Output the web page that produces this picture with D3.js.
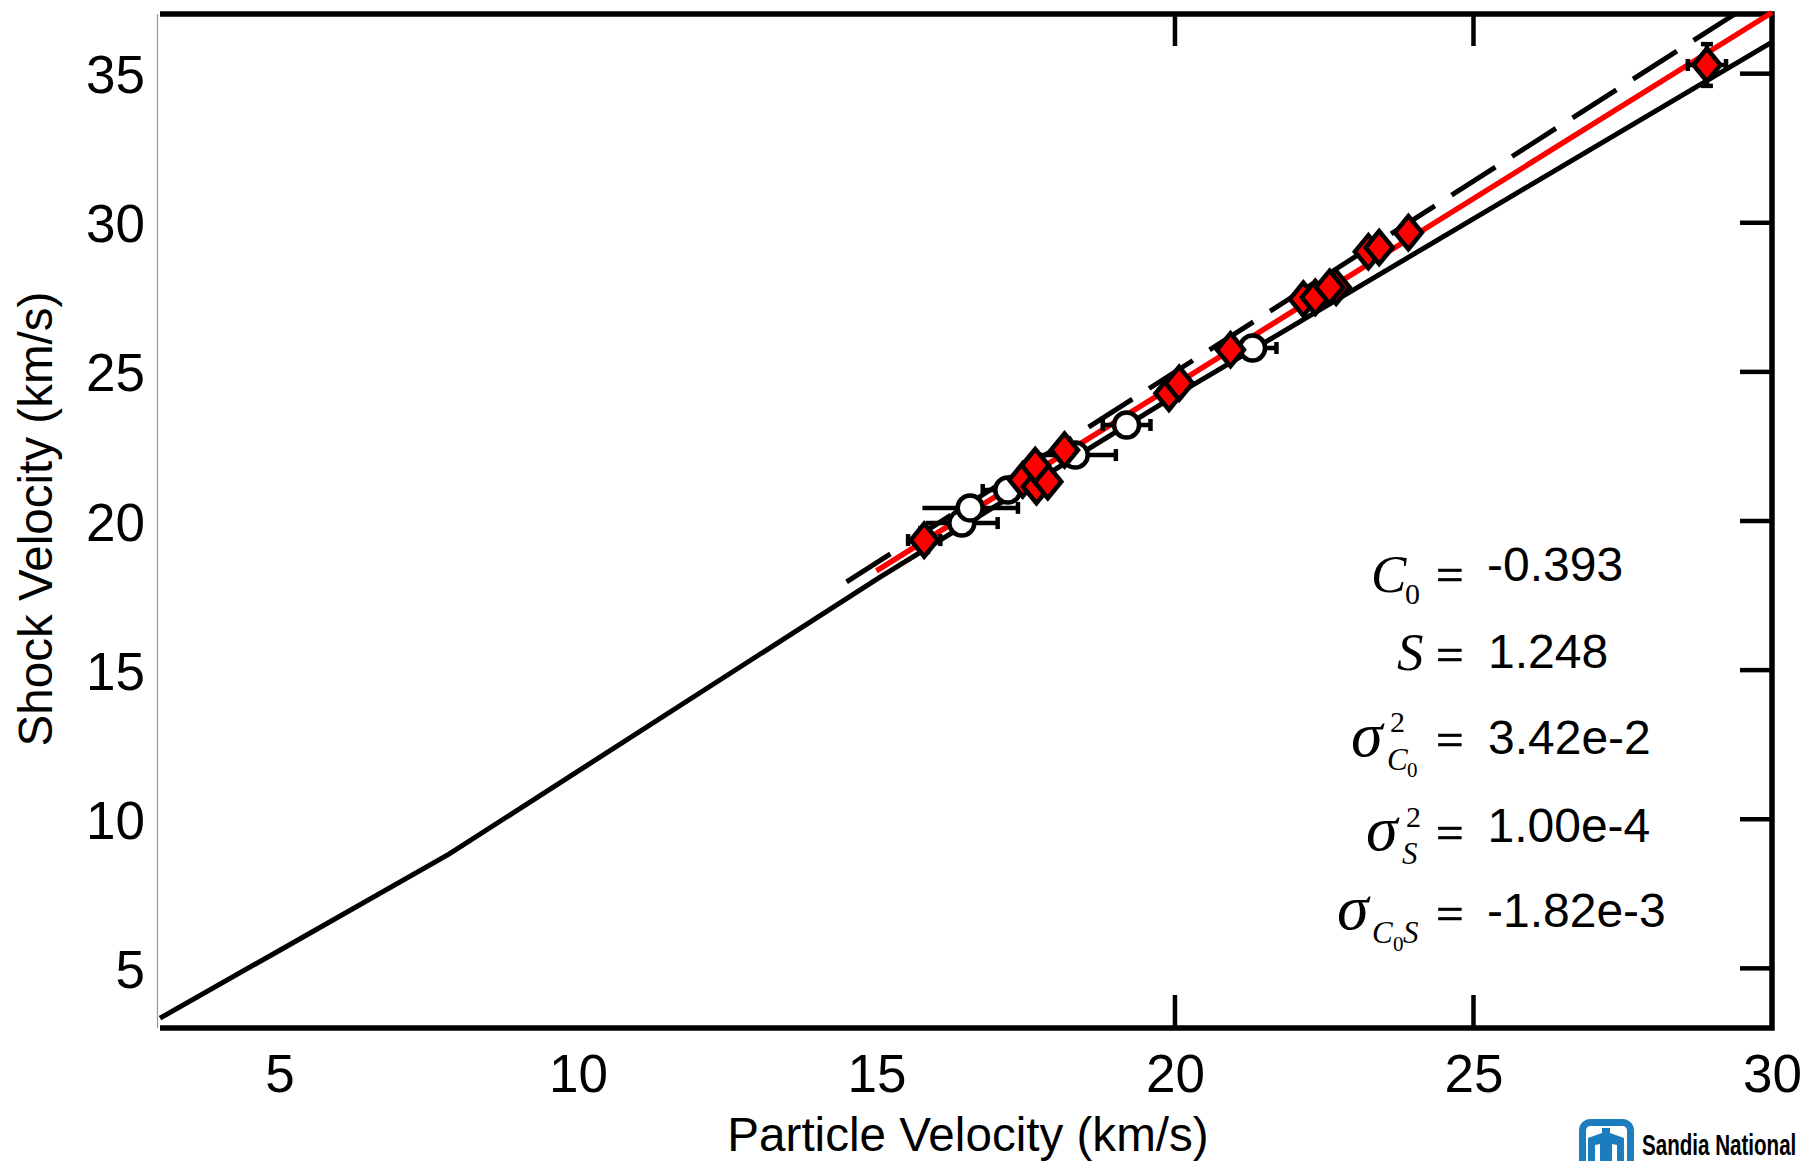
<!DOCTYPE html>
<html>
<head>
<meta charset="utf-8">
<script src="https://cdn.jsdelivr.net/npm/d3@7"></script>
<style>
html, body { margin: 0; padding: 0; background: #fff; overflow: hidden; }
svg { display: block; }
text { font-family: "Liberation Sans", Arial, sans-serif; fill: #000; }
.serif { font-family: "Liberation Serif", "Times New Roman", serif; }
</style>
</head>
<body>
<svg id="chart" width="1804" height="1161"></svg>
<script>
// values
var xTicks = [5, 10, 15, 20, 25, 30];
var yTicks = [5, 10, 15, 20, 25, 30, 35];
var xTickMarks = [20, 25];

var curveX = [3, 5, 7.84, 15.06, 20, 25.45, 30];
var curveY = [3.33, 5.6, 8.83, 18.12, 24.2, 30.67, 36.06];
var fitX = [15, 30];
var fitY = [18.33, 37.05];
var dashX = [14.5, 29.38];
var dashY = [17.96, 37];

var diamondX = [15.8, 17.45, 17.68, 17.87, 17.66, 18.15, 19.9, 20.07, 20.93, 22.15, 22.35, 22.7, 22.59, 23.24, 23.42, 23.91, 28.91];
var diamondY = [19.36, 21.38, 21.15, 21.32, 21.86, 22.38, 24.28, 24.62, 25.74, 27.44, 27.5, 27.84, 27.84, 29.03, 29.17, 29.67, 35.29];
var diamondXErr = [0.27, 0.15, 0.15, 0.15, 0.15, 0.15, 0.15, 0.15, 0.15, 0.15, 0.15, 0.15, 0.15, 0.15, 0.15, 0.15, 0.32];
var diamondYErr = [0.4, 0.3, 0.3, 0.3, 0.3, 0.3, 0.3, 0.3, 0.3, 0.3, 0.3, 0.3, 0.3, 0.3, 0.3, 0.3, 0.7];

var circleX = [16.43, 16.57, 17.2, 18.33, 19.19, 21.3];
var circleY = [19.93, 20.44, 21.04, 22.21, 23.22, 25.8];
var circleXErr = [0.6, 0.8, 0.42, 0.68, 0.4, 0.4];
var circleLeftCap = [false, false, true, true, true, true];

var margin = { left: 160, top: 14, right: 32, bottom: 133 };
var width = 1804, height = 1161;

var x = d3.scaleLinear().domain([3, 30]).range([margin.left, width - margin.right]);
var y = d3.scaleLinear().domain([3, 37]).range([height - margin.bottom, margin.top]);

var svg = d3.select("#chart");

// frame: thin grey on the left, heavy black on the others
svg.append("line").attr("x1", 157.5).attr("x2", 157.5).attr("y1", y(37)).attr("y2", y(3))
    .attr("stroke", "#999").attr("stroke-width", 1.2);
svg.append("path")
    .attr("d", d3.line()([[x(3), y(37)], [x(30), y(37)], [x(30), y(3)], [x(3), y(3)]]))
    .attr("fill", "none").attr("stroke", "#000").attr("stroke-width", 5.5);

// bottom axis
var xAxis = svg.append("g").attr("transform", "translate(0," + y(3) + ")")
    .call(d3.axisBottom(x).tickValues(xTicks).tickSize(0).tickFormat(d3.format("d")));
xAxis.select(".domain").remove();
xAxis.selectAll("text").attr("y", 64).attr("dy", 0).attr("font-size", 53)
    .style("font-family", '"Liberation Sans"');

// left axis labels only
var yAxis = svg.append("g").attr("transform", "translate(" + x(3) + ",0)")
    .call(d3.axisLeft(y).tickValues(yTicks).tickSize(0).tickFormat(d3.format("d")));
yAxis.select(".domain").remove();
yAxis.selectAll("text").attr("x", -15).attr("dy", 19).attr("font-size", 53)
    .style("font-family", '"Liberation Sans"');

// tick marks
svg.selectAll(".tickB").data(xTickMarks).enter().append("line")
    .attr("x1", d => x(d)).attr("x2", d => x(d)).attr("y1", y(3)).attr("y2", y(3) - 33)
    .attr("stroke", "#000").attr("stroke-width", 4.5);
svg.selectAll(".tickT").data(xTickMarks).enter().append("line")
    .attr("x1", d => x(d)).attr("x2", d => x(d)).attr("y1", y(37)).attr("y2", y(37) + 32)
    .attr("stroke", "#000").attr("stroke-width", 4.5);
svg.selectAll(".tickR").data(yTicks).enter().append("line")
    .attr("x1", x(30)).attr("x2", x(30) - 32).attr("y1", d => y(d)).attr("y2", d => y(d))
    .attr("stroke", "#000").attr("stroke-width", 4.5);

// axis titles
svg.append("text").attr("x", 968).attr("y", 1151).attr("text-anchor", "middle")
    .attr("font-size", 47.6).text("Particle Velocity (km/s)");
svg.append("text").attr("transform", "translate(52,519) rotate(-90)").attr("text-anchor", "middle")
    .attr("font-size", 47.6).text("Shock Velocity (km/s)");

// lines
var line = d3.line().x(d => x(d[0])).y(d => y(d[1]));
svg.append("path").attr("d", line(d3.zip(curveX, curveY)))
    .attr("fill", "none").attr("stroke", "#000").attr("stroke-width", 5);
svg.append("path").attr("d", line(d3.zip(dashX, dashY)))
    .attr("fill", "none").attr("stroke", "#000").attr("stroke-width", 5)
    .attr("stroke-dasharray", "52 19.8");
svg.append("path").attr("d", line(d3.zip(fitX, fitY)))
    .attr("fill", "none").attr("stroke", "#f00").attr("stroke-width", 5.5);

// error bars for the open circles
circleX.forEach(function (cx, i) {
    var py = y(circleY[i]);
    var g = svg.append("g").attr("stroke", "#000").attr("stroke-width", 4.5);
    g.append("line").attr("x1", x(cx - circleXErr[i])).attr("x2", x(cx + circleXErr[i])).attr("y1", py).attr("y2", py);
    g.append("line").attr("x1", x(cx + circleXErr[i])).attr("x2", x(cx + circleXErr[i])).attr("y1", py - 6).attr("y2", py + 6);
    if (circleLeftCap[i]) {
        g.append("line").attr("x1", x(cx - circleXErr[i])).attr("x2", x(cx - circleXErr[i])).attr("y1", py - 6).attr("y2", py + 6);
    }
});
svg.selectAll(".open").data(d3.zip(circleX, circleY)).enter().append("circle")
    .attr("cx", d => x(d[0])).attr("cy", d => y(d[1])).attr("r", 12.5)
    .attr("fill", "#fff").attr("stroke", "#000").attr("stroke-width", 4.5);

// diamonds with their error bars
diamondX.forEach(function (dx, i) {
    var px = x(dx), py = y(diamondY[i]);
    var g = svg.append("g").attr("stroke", "#000").attr("stroke-width", 4.5);
    var xl = x(dx - diamondXErr[i]), xr = x(dx + diamondXErr[i]);
    var yt = y(diamondY[i] + diamondYErr[i]), yb = y(diamondY[i] - diamondYErr[i]);
    g.append("line").attr("x1", xl).attr("x2", xr).attr("y1", py).attr("y2", py);
    g.append("line").attr("x1", px).attr("x2", px).attr("y1", yt).attr("y2", yb);
    g.append("line").attr("x1", xl).attr("x2", xl).attr("y1", py - 6).attr("y2", py + 6);
    g.append("line").attr("x1", xr).attr("x2", xr).attr("y1", py - 6).attr("y2", py + 6);
    g.append("line").attr("x1", px - 6).attr("x2", px + 6).attr("y1", yt).attr("y2", yt);
    g.append("line").attr("x1", px - 6).attr("x2", px + 6).attr("y1", yb).attr("y2", yb);
    svg.append("polygon")
        .attr("points", [[px - 13.5, py], [px, py - 16.5], [px + 13.5, py], [px, py + 16.5]].join(" "))
        .attr("fill", "#f00").attr("stroke", "#000").attr("stroke-width", 4.5);
});

// fit results
var eqItems = [
    ["C", 1371, 592, 53, "i"], ["0", 1405, 604, 30, "s"],
    ["S", 1397, 670, 53, "i"],
    ["\u03c3", 1351, 756, 64, "i"], ["2", 1390, 732, 30, "s"], ["C", 1387, 770, 31, "i"], ["0", 1407, 777, 21, "s"],
    ["\u03c3", 1366, 850, 64, "i"], ["2", 1406, 827, 30, "s"], ["S", 1402, 864, 31, "i"],
    ["\u03c3", 1337, 929, 64, "i"], ["C", 1372, 943, 31, "i"], ["0", 1393, 951, 21, "s"], ["S", 1403, 943, 31, "i"]
];
eqItems.forEach(function (e) {
    svg.append("text").attr("class", "serif").attr("x", e[1]).attr("y", e[2])
        .attr("font-size", e[3]).attr("font-style", e[4] == "i" ? "italic" : "normal").text(e[0]);
});
var eqRows = [591, 671, 756, 849, 930];
eqRows.forEach(function (b) {
    svg.append("text").attr("class", "serif").attr("x", 1436).attr("y", b)
        .attr("font-size", 49).attr("stroke", "#000").attr("stroke-width", 0.6).text("=");
});
var eqValues = ["-0.393", "1.248", "3.42e-2", "1.00e-4", "-1.82e-3"];
var eqValueX = [1487, 1488, 1488, 1487.5, 1487];
var eqValueY = [581, 668, 754, 842, 927];
eqValues.forEach(function (v, i) {
    svg.append("text").attr("x", eqValueX[i]).attr("y", eqValueY[i]).attr("font-size", 48).text(v);
});

// logo, cut off by the bottom edge of the picture
var blue = "#1b7dbd";
svg.append("rect").attr("x", 1582.5).attr("y", 1122.5).attr("width", 48).attr("height", 60).attr("rx", 8)
    .attr("fill", "#fff").attr("stroke", blue).attr("stroke-width", 7);
svg.append("path").attr("fill", blue)
    .attr("d", "M1602 1128h8v5l14 5v23h-7v-16l-5-1v17h-12v-17l-5 1v16h-7v-23l14-5z");
svg.append("text").attr("transform", "translate(1642,1154.5) scale(0.71,1)")
    .attr("font-size", 29).attr("font-weight", "bold").attr("fill", "#222").text("Sandia National");
</script>
</body>
</html>
